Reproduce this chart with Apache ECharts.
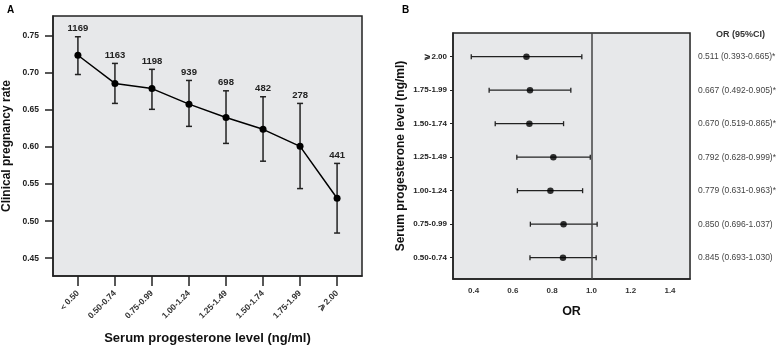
<!DOCTYPE html>
<html><head><meta charset="utf-8">
<script src="https://cdn.jsdelivr.net/npm/echarts@6/dist/echarts.min.js"></script>
<style>html,body{margin:0;padding:0;background:#fff}#c{width:779px;height:350px}</style>
</head><body><div id="c"></div>
<script>
// Panel A data
const catsA = ['＜0.50','0.50-0.74','0.75-0.99','1.00-1.24','1.25-1.49','1.50-1.74','1.75-1.99','⩾2.00'];
const rateA = [0.724,0.686,0.679,0.658,0.640,0.624,0.601,0.531];
const upperA = [0.749,0.713,0.705,0.690,0.676,0.668,0.659,0.578];
const lowerA = [0.698,0.659,0.651,0.628,0.605,0.581,0.544,0.484];
const countsA = [1169,1163,1198,939,698,482,278,441];
const yTicksA = [0.45,0.50,0.55,0.60,0.65,0.70,0.75];

// Panel B data (bottom to top)
const catsB = ['0.50-0.74','0.75-0.99','1.00-1.24','1.25-1.49','1.50-1.74','1.75-1.99','⩾2.00'];
const orB = [0.855,0.858,0.791,0.806,0.684,0.687,0.669];
const ciLowB = [0.687,0.689,0.623,0.620,0.510,0.479,0.388];
const ciHighB = [1.024,1.029,0.955,0.994,0.858,0.895,0.951];
const orTextB = ['0.845 (0.693-1.030)','0.850 (0.696-1.037)','0.779 (0.631-0.963)*','0.792 (0.628-0.999)*','0.670 (0.519-0.865)*','0.667 (0.492-0.905)*','0.511 (0.393-0.665)*'];
const xTicksB = [0.4,0.6,0.8,1.0,1.2,1.4];
const refLine = 1;

const idxA = catsA.map((_, i) => i);
const idxB = catsB.map((_, i) => i);
const FONT = 'Liberation Sans, Arial, sans-serif';

const chart = echarts.init(document.getElementById('c'), null, {renderer: 'canvas'});
chart.setOption({
  animation: false,
  textStyle: {fontFamily: FONT},
  title: [
    {text: 'A', left: 2, top: 0, textStyle: {fontSize: 10, fontWeight: 'bold', color: '#000', fontFamily: FONT}},
    {text: 'B', left: 397, top: 0, textStyle: {fontSize: 10, fontWeight: 'bold', color: '#000', fontFamily: FONT}},
    {text: 'OR (95%CI)', left: 711, top: 25, textStyle: {fontSize: 9, fontWeight: 'bold', color: '#333', fontFamily: FONT}}
  ],
  grid: [
    {left: 52, right: 417, top: 16, bottom: 70, show: true, backgroundColor: '#e7e8ea', borderColor: '#222', borderWidth: 1.5},
    {left: 453, right: 88, top: 33, bottom: 71, show: true, backgroundColor: '#e7e8ea', borderColor: '#222', borderWidth: 1.5}
  ],
  xAxis: [
    {type: 'value', gridIndex: 0, min: -0.673, max: 7.673,
     name: 'Serum progesterone level (ng/ml)', nameLocation: 'middle', nameGap: 56,
     nameTextStyle: {fontSize: 13, fontWeight: 'bold', color: '#111', fontFamily: FONT},
     axisLine: {onZero: false, lineStyle: {color: '#222', width: 1.5}},
     axisTick: {customValues: idxA, length: 10, lineStyle: {color: '#222', width: 1.5}},
     axisLabel: {customValues: idxA, rotate: 45, margin: 16, fontSize: 8.5, fontWeight: 'bold', color: '#333',
                 formatter: v => catsA[Math.round(v)]},
     splitLine: {show: false}},
    {type: 'value', gridIndex: 1, min: 0.295, max: 1.502,
     name: 'OR', nameLocation: 'middle', nameGap: 26,
     nameTextStyle: {fontSize: 12.5, fontWeight: 'bold', color: '#111', fontFamily: FONT},
     axisLine: {onZero: false, lineStyle: {color: '#222', width: 1.5}},
     axisTick: {show: false},
     axisLabel: {customValues: xTicksB, margin: 8, fontSize: 8, fontWeight: 'bold', color: '#333',
                 formatter: v => v.toFixed(1)},
     splitLine: {show: false}},
  ],
  yAxis: [
    {type: 'value', gridIndex: 0, min: 0.426, max: 0.777,
     name: 'Clinical pregnancy rate', nameLocation: 'middle', nameGap: 40,
     nameTextStyle: {fontSize: 12, fontWeight: 'bold', color: '#111', fontFamily: FONT},
     axisLine: {onZero: false, lineStyle: {color: '#222', width: 1.5}},
     axisTick: {customValues: yTicksA, length: 8, lineStyle: {color: '#222', width: 1.5}},
     axisLabel: {customValues: yTicksA, margin: 14, fontSize: 8.5, fontWeight: 'bold', color: '#222',
                 formatter: v => v.toFixed(2)},
     splitLine: {show: false}},
    {type: 'value', gridIndex: 1, min: -0.636, max: 6.707,
     name: 'Serum progesterone level (ng/ml)', nameLocation: 'middle', nameGap: 46,
     nameTextStyle: {fontSize: 12, fontWeight: 'bold', color: '#111', fontFamily: FONT},
     axisLine: {onZero: false, lineStyle: {color: '#222', width: 1.5}},
     axisTick: {customValues: idxB, length: 3, lineStyle: {color: '#222', width: 1}},
     axisLabel: {customValues: idxB, margin: 6, fontSize: 8, fontWeight: 'bold', color: '#222',
                 formatter: v => catsB[Math.round(v)]},
     splitLine: {show: false}},
    {type: 'value', gridIndex: 1, min: -0.636, max: 6.707, position: 'right',
     axisLine: {show: false, onZero: false}, axisTick: {show: false}, splitLine: {show: false},
     axisLabel: {customValues: idxB, margin: 8, fontSize: 8.5, color: '#444', align: 'left',
                 formatter: v => orTextB[Math.round(v)]}}
  ],
  series: [
    {type: 'custom', xAxisIndex: 0, yAxisIndex: 0, z: 3,
     data: idxA.map(i => [i, lowerA[i], upperA[i], countsA[i]]),
     renderItem: (params, api) => {
       const x = api.value(0);
       const lo = api.coord([x, api.value(1)]);
       const hi = api.coord([x, api.value(2)]);
       const w = 3;
       const st = {stroke: '#222', lineWidth: 1.5};
       return {type: 'group', children: [
         {type: 'line', shape: {x1: lo[0], y1: lo[1], x2: hi[0], y2: hi[1]}, style: st},
         {type: 'line', shape: {x1: lo[0]-w, y1: lo[1], x2: lo[0]+w, y2: lo[1]}, style: st},
         {type: 'line', shape: {x1: hi[0]-w, y1: hi[1], x2: hi[0]+w, y2: hi[1]}, style: st},
         {type: 'text', x: hi[0], y: hi[1] - 3, style: {text: String(countsA[params.dataIndex]), align: 'center', verticalAlign: 'bottom',
           fontSize: 9.5, fontWeight: 'bold', fill: '#222', fontFamily: FONT}}
       ]};
     }},
    {type: 'line', xAxisIndex: 0, yAxisIndex: 0, z: 4,
     data: idxA.map(i => [i, rateA[i]]),
     symbol: 'circle', symbolSize: 7,
     itemStyle: {color: '#000'}, lineStyle: {color: '#000', width: 1.5}},
    {type: 'custom', xAxisIndex: 1, yAxisIndex: 1, z: 3,
     data: idxB.map(i => [ciLowB[i], ciHighB[i], i]),
     renderItem: (params, api) => {
       const r = api.value(2);
       const a = api.coord([api.value(0), r]);
       const b = api.coord([api.value(1), r]);
       const h = 2.5;
       const st = {stroke: '#222', lineWidth: 1.3};
       return {type: 'group', children: [
         {type: 'line', shape: {x1: a[0], y1: a[1], x2: b[0], y2: b[1]}, style: st},
         {type: 'line', shape: {x1: a[0], y1: a[1]-h, x2: a[0], y2: a[1]+h}, style: st},
         {type: 'line', shape: {x1: b[0], y1: b[1]-h, x2: b[0], y2: b[1]+h}, style: st}
       ]};
     }},
    {type: 'scatter', xAxisIndex: 1, yAxisIndex: 1, z: 4,
     data: idxB.map(i => [orB[i], i]),
     symbol: 'circle', symbolSize: 6.5, itemStyle: {color: '#000'},
     markLine: {silent: true, symbol: 'none', label: {show: false},
                lineStyle: {color: '#444', width: 1.5, type: 'solid'},
                data: [{xAxis: refLine}]}}
  ]
});
</script></body></html>
